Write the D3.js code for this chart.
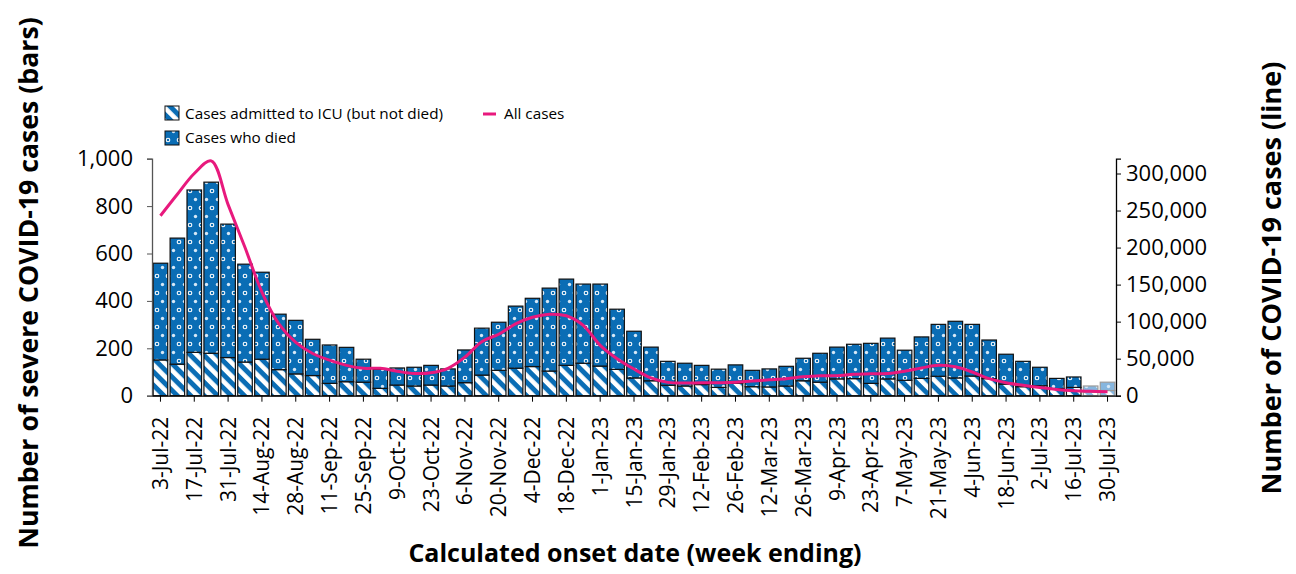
<!DOCTYPE html>
<html><head><meta charset="utf-8">
<script src="https://cdn.jsdelivr.net/npm/d3@7"></script>
<style>
body{margin:0;background:#fff;}
text{font-family:"Open Sans",sans-serif;fill:#000;}
</style></head>
<body><svg id="c" width="1296" height="574"></svg>
<script>
const weeks = ["3-Jul-22","10-Jul-22","17-Jul-22","24-Jul-22","31-Jul-22","7-Aug-22","14-Aug-22","21-Aug-22","28-Aug-22","4-Sep-22","11-Sep-22","18-Sep-22","25-Sep-22","2-Oct-22","9-Oct-22","16-Oct-22","23-Oct-22","30-Oct-22","6-Nov-22","13-Nov-22","20-Nov-22","27-Nov-22","4-Dec-22","11-Dec-22","18-Dec-22","25-Dec-22","1-Jan-23","8-Jan-23","15-Jan-23","22-Jan-23","29-Jan-23","5-Feb-23","12-Feb-23","19-Feb-23","26-Feb-23","5-Mar-23","12-Mar-23","19-Mar-23","26-Mar-23","2-Apr-23","9-Apr-23","16-Apr-23","23-Apr-23","30-Apr-23","7-May-23","14-May-23","21-May-23","28-May-23","4-Jun-23","11-Jun-23","18-Jun-23","25-Jun-23","2-Jul-23","9-Jul-23","16-Jul-23","23-Jul-23","30-Jul-23"];
const icu = [151,133,183,179,161,142,154,110,92,85,52,59,57,31,45,41,45,41,55,87,107,116,123,104,128,137,125,111,75,63,44,41,47,35,52,38,37,41,63,57,71,72,52,71,65,73,82,75,83,72,49,38,42,30,35,15,22];
const died = [408,532,685,722,563,413,367,234,226,153,162,145,97,80,72,79,83,72,138,198,203,262,288,350,364,334,346,254,197,142,101,96,81,77,78,69,76,83,95,122,134,145,169,172,127,175,219,239,218,163,126,107,78,43,44,26,35];
const allCases = [243000,272000,300000,317000,258000,200000,140000,97000,72000,57000,48000,41000,37000,37000,33000,30000,31000,37000,52000,73000,83000,97000,106000,110000,108000,95000,68000,50000,36000,24000,18000,17000,17500,17500,18000,20000,21500,23000,25500,27000,27000,29000,29500,30000,33000,37500,41000,39000,32000,23000,17500,14000,11000,8500,6700,6000,5500];
const incompleteWeeks = ["23-Jul-23","30-Jul-23"];
const leftTicks = [0,200,400,600,800,1000];
const rightTicks = [0,50000,100000,150000,200000,250000,300000];
const seriesNames = ["Cases admitted to ICU (but not died)","Cases who died","All cases"];

const svg = d3.select("#c");
const blue = "#0a6db5";
const pink = "#e8197d";
const L=152, R=1116, T=158.7, B=395.7;

const defs = svg.append("defs");
function stripePat(id, col){
  const p = defs.append("pattern").attr("id",id).attr("patternUnits","userSpaceOnUse")
    .attr("width",9.5).attr("height",9.5).attr("patternTransform","rotate(-45)");
  p.append("rect").attr("width",9.5).attr("height",9.5).attr("fill",col);
  p.append("rect").attr("x",0).attr("width",4.6).attr("height",9.5).attr("fill","#fff");
}
function dotPat(id, col){
  const p = defs.append("pattern").attr("id",id).attr("patternUnits","userSpaceOnUse")
    .attr("width",11).attr("height",17);
  p.append("rect").attr("width",11).attr("height",17).attr("fill",col);
  p.append("circle").attr("cx",3).attr("cy",4).attr("r",1.8).attr("fill",col).attr("stroke","#fff").attr("stroke-width",1.1);
  p.append("circle").attr("cx",8.5).attr("cy",12.5).attr("r",1.7).attr("fill","#d6e8f7");
}
stripePat("icuPat", blue);
dotPat("diedPat", blue);
stripePat("icuPatLight", "#86b6df");
dotPat("diedPatLight", "#86b6df");

const x = d3.scaleBand().domain(weeks).range([L,R]).paddingInner(0.14).paddingOuter(0.07);
const yL = d3.scaleLinear().domain([0,1000]).range([B,T]);
const yR = d3.scaleLinear().domain([0,320000]).range([B,T]);

// bars
const g = svg.append("g");
weeks.forEach((w,i)=>{
  const inc = incompleteWeeks.includes(w);
  const sc = inc ? "#9a9a9a" : "#111";
  const bx = x(w), bw = x.bandwidth();
  g.append("rect").attr("x",bx).attr("width",bw)
    .attr("y",yL(icu[i])).attr("height",yL(0)-yL(icu[i]))
    .attr("fill",inc?"url(#icuPatLight)":"url(#icuPat)").attr("stroke",sc).attr("stroke-width",1.2);
  g.append("rect").attr("x",bx).attr("width",bw)
    .attr("y",yL(icu[i]+died[i])).attr("height",yL(icu[i])-yL(icu[i]+died[i]))
    .attr("fill",inc?"url(#diedPatLight)":"url(#diedPat)").attr("stroke",sc).attr("stroke-width",1.2);
});

// line
const line = d3.line().x((d,i)=>x(weeks[i])+x.bandwidth()/2).y(d=>yR(d)).curve(d3.curveCatmullRom.alpha(0.5));
svg.append("path").datum(allCases).attr("d",line).attr("fill","none").attr("stroke",pink).attr("stroke-width",3);

// axes
const axL = svg.append("g").attr("transform",`translate(${L},0)`)
  .call(d3.axisLeft(yL).tickValues(leftTicks).tickFormat(d3.format(",")).tickSize(5).tickPadding(14));
axL.selectAll("text").style("font-size","22px");
axL.select(".domain").attr("stroke","#555").attr("stroke-width",1.3);
axL.selectAll(".tick line").attr("stroke","#555");

const axR = svg.append("g").attr("transform",`translate(${R},0)`)
  .call(d3.axisRight(yR).tickValues(rightTicks).tickFormat(d3.format(",")).tickSize(5).tickPadding(5));
axR.selectAll("text").style("font-size","22px");
axR.select(".domain").attr("stroke","#000").attr("stroke-width",1.3);

const tickWeeks = weeks.filter((w,i)=>i%2===0);
const axB = svg.append("g").attr("transform",`translate(0,${B})`)
  .call(d3.axisBottom(x).tickValues(tickWeeks).tickSize(6).tickSizeOuter(0));
axB.select(".domain").attr("stroke","#000").attr("stroke-width",1.3);
axB.selectAll("text").style("font-size","21px")
  .attr("transform","rotate(-90)").attr("text-anchor","end")
  .attr("x",-21).attr("y",0).attr("dy","0.36em");

// titles
svg.append("text").attr("transform","translate(38,283) rotate(-90)").attr("text-anchor","middle")
  .style("font-size","26.7px").style("font-weight","bold").text("Number of severe COVID-19 cases (bars)");
svg.append("text").attr("transform","translate(1281,278) rotate(-90)").attr("text-anchor","middle")
  .style("font-size","27px").style("font-weight","bold").text("Number of COVID-19 cases (line)");
svg.append("text").attr("x",635).attr("y",562).attr("text-anchor","middle")
  .style("font-size","25px").style("font-weight","bold").text("Calculated onset date (week ending)");

// legend
const lg = svg.append("g");
lg.append("rect").attr("x",165).attr("y",106).attr("width",14).attr("height",14).attr("fill","url(#icuPat)").attr("stroke","#111");
lg.append("text").attr("x",185).attr("y",119).style("font-size","15.3px").text(seriesNames[0]);
lg.append("rect").attr("x",165).attr("y",131).attr("width",14).attr("height",14).attr("fill","url(#diedPat)").attr("stroke","#111");
lg.append("text").attr("x",185).attr("y",143).style("font-size","15.3px").text(seriesNames[1]);
lg.append("line").attr("x1",483).attr("x2",496).attr("y1",114).attr("y2",114).attr("stroke",pink).attr("stroke-width",3);
lg.append("text").attr("x",504).attr("y",119).style("font-size","15.3px").text(seriesNames[2]);
</script></body></html>
